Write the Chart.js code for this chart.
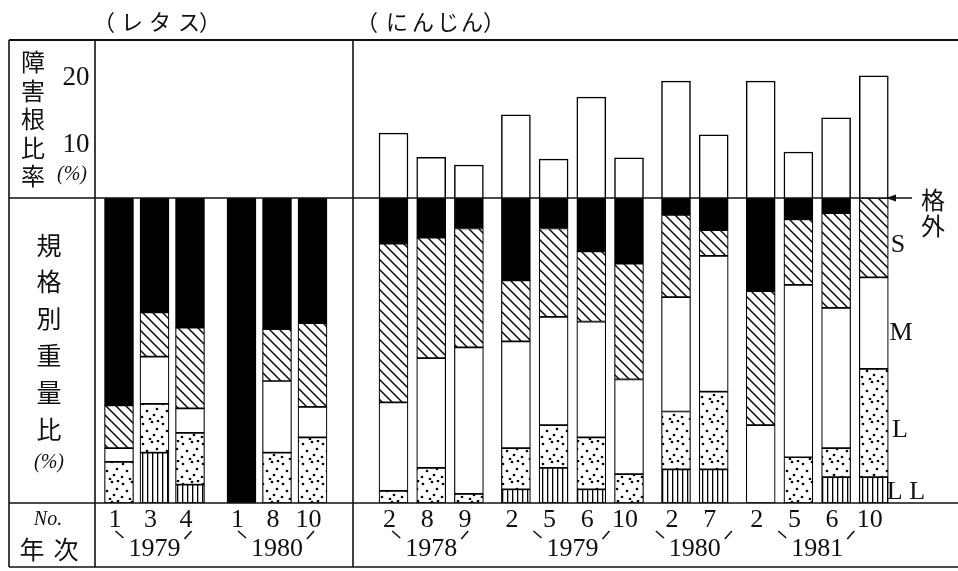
<!DOCTYPE html>
<html>
<head>
<meta charset="utf-8">
<script src="https://cdn.jsdelivr.net/npm/chart.js@4.4.1/dist/chart.umd.min.js"></script>
<style>
  html, body { margin: 0; padding: 0; background: #fff; }
  canvas { display: block; }
</style>
</head>
<body>
<canvas id="chart" width="958" height="571"></canvas>
<script>
// ---- data: lettuce (no damaged-root data) ----
const lettuceNo = [1, 3, 4, 1, 8, 10];
const lettuceYear = [1979, 1979, 1979, 1980, 1980, 1980];
const lettuceOut = [68, 37.5, 42.5, 100, 43, 41];
const lettuceS = [14, 14.5, 26.5, 0, 17, 27.5];
const lettuceM = [4.5, 15.5, 8, 0, 23.5, 10];
const lettuceL = [13.5, 16, 17, 0, 16.5, 21.5];
const lettuceLL = [0, 16.5, 6, 0, 0, 0];

// ---- data: carrot ----
const carrotNo = [2, 8, 9, 2, 5, 6, 10, 2, 7, 2, 5, 6, 10];
const carrotYear = [1978, 1978, 1978, 1979, 1979, 1979, 1979, 1980, 1980, 1981, 1981, 1981, 1981];
const carrotDamage = [11.0, 6.9, 5.6, 14.1, 6.6, 17.1, 6.8, 19.8, 10.7, 19.8, 7.8, 13.6, 20.7];
const carrotOut = [15, 13, 10, 27, 10, 17.5, 21.5, 5.5, 10.5, 30.5, 7, 5, 0];
const carrotS = [52, 39.5, 39, 20, 29, 23, 38, 27, 8.5, 44, 21.5, 31, 26];
const carrotM = [29, 36, 48, 35, 35.5, 38, 31, 37.5, 44.5, 25.5, 56.5, 46, 30];
const carrotL = [4, 11.5, 3, 13.5, 14, 17, 9.5, 19, 25.5, 0, 15, 9.5, 35.5];
const carrotLL = [0, 0, 0, 4.5, 11.5, 4.5, 0, 11, 11, 0, 0, 8.5, 8.5];

const gradeNames = ["格外", "S", "M", "L", "LL"];
const damageTicks = [10, 20];

// ---- layout (x units along the bar axis) ----
const X_MAX = 86.3;
const LET_START = 2.4, LET_PITCH = 3.55, LET_GAP = 5.15;
const CAR_START = 29.85, CAR_PITCH = 3.77, CAR_GAP = 4.7;

function positions(years, start, pitch, gap) {
  const out = [];
  let x = start;
  years.forEach((y, i) => {
    if (i > 0) x += (y === years[i - 1]) ? pitch : gap;
    out.push(x);
  });
  return out;
}
const lettuceX = positions(lettuceYear, LET_START, LET_PITCH, LET_GAP);
const carrotX = positions(carrotYear, CAR_START, CAR_PITCH, CAR_GAP);

// ---- fill patterns ----
function makePattern(w, h, draw) {
  const c = document.createElement("canvas");
  c.width = w; c.height = h;
  const g = c.getContext("2d");
  g.fillStyle = "#fff";
  g.fillRect(0, 0, w, h);
  g.strokeStyle = "#000";
  g.fillStyle = "#000";
  draw(g, w, h);
  return g.createPattern(c, "repeat");
}
const hatch = makePattern(10, 10, (g, w) => {
  g.lineWidth = 1.4;
  for (const k of [-w, 0, w]) {
    g.beginPath();
    g.moveTo(-2, k - 2);
    g.lineTo(w + 2, k + w + 2);
    g.stroke();
  }
});
const dots = makePattern(20, 20, (g) => {
  [[3, 4], [12, 2], [17, 9], [7, 11], [14, 15], [2, 17], [10, 19], [18, 1]].forEach(([x, y]) => {
    g.beginPath();
    g.arc(x, y, 1.35, 0, Math.PI * 2);
    g.fill();
  });
});
const vlines = makePattern(5, 4, (g) => {
  g.fillRect(2, 0, 1.3, 4);
});
const gradeFills = ["#000", hatch, "#fff", dots, vlines];

function gradeSets(xs, grades) {
  return grades.map((arr, g) => ({
    label: gradeNames[g],
    data: arr.map((v, i) => (v ? { x: xs[i], y: v } : null)).filter(Boolean),
    yAxisID: "yW",
    stack: "all",
    backgroundColor: gradeFills[g],
    borderColor: "#000",
    borderWidth: 1.2,
    borderSkipped: false,
    barThickness: 29
  }));
}

const datasets = [
  ...gradeSets(lettuceX, [lettuceOut, lettuceS, lettuceM, lettuceL, lettuceLL]),
  ...gradeSets(carrotX, [carrotOut, carrotS, carrotM, carrotL, carrotLL]),
  {
    label: "障害根比率",
    data: carrotDamage.map((v, i) => ({ x: carrotX[i], y: v })),
    yAxisID: "yT",
    stack: "all",
    backgroundColor: "#fff",
    borderColor: "#000",
    borderWidth: 1.5,
    borderSkipped: "start",
    barThickness: 29
  }
];

// frame geometry (pixels)
const LEFT = 9, COL = 95, DIV = 353, TOP = 40, BASE = 198, ROW = 503, BOTTOM = 567, RIGHT = 958;
const JP = '"Noto Sans CJK JP", sans-serif';
const SERIF = '"Liberation Serif", serif';

function line(ctx, x1, y1, x2, y2, w) {
  ctx.lineWidth = w;
  ctx.beginPath();
  ctx.moveTo(x1, y1);
  ctx.lineTo(x2, y2);
  ctx.stroke();
}
function text(ctx, s, x, y, font) {
  ctx.font = font;
  ctx.fillText(s, x, y);
}

const framePlugin = {
  id: "frame",
  afterDatasetsDraw(chart) {
    const ctx = chart.ctx;
    ctx.save();
    ctx.strokeStyle = "#111";
    line(ctx, LEFT, TOP, RIGHT, TOP, 2);
    line(ctx, LEFT, TOP, LEFT, BOTTOM, 1.6);
    line(ctx, COL, TOP, COL, BOTTOM, 1.6);
    line(ctx, DIV, TOP, DIV, BOTTOM, 1.6);
    line(ctx, LEFT, ROW, RIGHT, ROW, 1.6);
    line(ctx, LEFT, BOTTOM, RIGHT, BOTTOM, 1.6);
    line(ctx, LEFT, BASE, COL, BASE, 1.4);
    line(ctx, COL, BASE, 912, BASE, 1.6);
    // arrow pointing at the baseline
    ctx.fillStyle = "#111";
    ctx.beginPath();
    ctx.moveTo(886, BASE);
    ctx.lineTo(896, BASE - 3.5);
    ctx.lineTo(896, BASE + 3.5);
    ctx.closePath();
    ctx.fill();
    ctx.restore();
  },
  afterDraw(chart) {
    const ctx = chart.ctx;
    const xs = chart.scales.x;
    const yT = chart.scales.yT;
    ctx.save();
    ctx.fillStyle = "#111";
    ctx.strokeStyle = "#111";
    ctx.textAlign = "center";
    ctx.textBaseline = "middle";

    // panel titles
    [["（", 104], ["レ", 132], ["タ", 160], ["ス", 189], ["）", 210]].forEach(([c, x]) => text(ctx, c, x, 22, "22px " + JP));
    [["（", 367], ["に", 397], ["ん", 423], ["じ", 448], ["ん", 472], ["）", 494]].forEach(([c, x]) => text(ctx, c, x, 22, "22px " + JP));

    // left column captions
    ["障", "害", "根", "比", "率"].forEach((c, i) => text(ctx, c, 33, 62 + i * 28.5, "24px " + JP));
    damageTicks.forEach(v => text(ctx, String(v), 76, yT.getPixelForValue(v) + (v === 10 ? 6 : -2), "27px " + SERIF));
    text(ctx, "(%)", 72, 175, "italic 20px " + SERIF);
    ["規", "格", "別", "重", "量", "比"].forEach((c, i) => text(ctx, c, 49, 245 + i * 36.8, "25px " + JP));
    text(ctx, "(%)", 49, 463, "italic 20px " + SERIF);
    text(ctx, "No.", 48, 520, "italic 20px " + SERIF);
    text(ctx, "年", 32, 549, "25px " + JP);
    text(ctx, "次", 66, 549, "25px " + JP);

    // grade labels at the right
    text(ctx, "格", 933, 200, "24px " + JP);
    text(ctx, "外", 933, 226, "24px " + JP);
    text(ctx, "S", 898, 245, "26px " + SERIF);
    text(ctx, "M", 901, 333, "26px " + SERIF);
    text(ctx, "L", 900, 430, "26px " + SERIF);
    text(ctx, "L L", 906, 492, "26px " + SERIF);

    // trial numbers and years
    const groups = [[lettuceX, lettuceNo, lettuceYear], [carrotX, carrotNo, carrotYear]];
    groups.forEach(([px, nos, years]) => {
      nos.forEach((n, i) => text(ctx, String(n), xs.getPixelForValue(px[i]) - 4, 520, "26px " + SERIF));
      [...new Set(years)].forEach(yr => {
        const idx = years.map((y, i) => (y === yr ? i : -1)).filter(i => i >= 0);
        const cx = idx.reduce((a, i) => a + xs.getPixelForValue(px[i]), 0) / idx.length;
        ctx.font = "26px " + SERIF;
        const w = ctx.measureText(String(yr)).width;
        ctx.fillText(String(yr), cx, 549);
        line(ctx, cx - w / 2 - 13, 531, cx - w / 2 - 5, 538, 1.6);
        line(ctx, cx + w / 2 + 11, 531, cx + w / 2 + 4, 539, 1.6);
      });
    });
    ctx.restore();
  }
};

new Chart(document.getElementById("chart"), {
  type: "bar",
  data: { datasets },
  options: {
    responsive: false,
    animation: false,
    layout: { padding: { left: COL, right: 0, top: TOP, bottom: 571 - ROW } },
    plugins: { legend: { display: false }, tooltip: { enabled: false } },
    scales: {
      x: { type: "linear", min: 0, max: X_MAX, display: false, offset: false, stacked: true },
      yT: { type: "linear", min: -51.69, max: 26.78, display: false, stacked: true },
      yW: { type: "linear", min: -51.8, max: 100, reverse: true, display: false, stacked: true }
    }
  },
  plugins: [framePlugin]
});
</script>
</body>
</html>
